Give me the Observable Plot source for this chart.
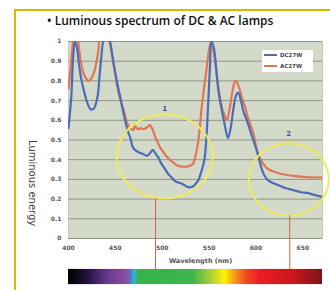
<!DOCTYPE html>
<html><head><meta charset="utf-8">
<script src="https://cdn.jsdelivr.net/npm/d3@7"></script>
<script src="https://cdn.jsdelivr.net/npm/@observablehq/plot@0.6"></script>
<style>
body{margin:0;background:#fff;width:330px;height:290px;overflow:hidden;position:relative;font-family:"DejaVu Sans",sans-serif;}
#frame{position:absolute;left:14px;top:9px;width:330px;height:300px;border-left:2px solid #d8bc00;border-top:2px solid #d8bc00;}
#title{position:absolute;left:47px;top:12px;font:600 12px "Open Sans",sans-serif;color:#111;white-space:nowrap;}
#chart{position:absolute;left:0;top:30px;}
#legend{position:absolute;left:262px;top:50px;width:51px;height:22px;background:#fff;font:bold 5.5px "DejaVu Sans",sans-serif;color:#444;}
#legend .row{position:absolute;left:2px;height:8px;display:flex;align-items:center;white-space:nowrap;}
#legend .sw{display:inline-block;width:13px;height:2px;margin-right:3px;}
</style></head><body>
<div id="frame"></div>
<div id="title"></div>
<div id="chart"></div>
<div id="legend"></div>
<script>
// ---- data ----
const seriesNames = ["DC27W", "AC27W"];
const seriesColors = ["#4c6cb8", "#e27552"];
const dcWavelength = [400,403,405,407,409,411,414,417,420,424,427,431,433,435,437,440,444,448,452,456,459,463,466,469,474,479,484,488,490,493,496,499,502,506,510,514,520,524,528,533,536,539,541,543,545,547,549,551,552.5,555,557,560,564,567,570,573,576,579,581,584,587,591,595,600,603,606,609,613,619,624,632,640,648,656,663,671];
const dcValue = [0.56,0.72,0.92,1.0,0.97,0.89,0.80,0.74,0.69,0.655,0.66,0.72,0.82,0.92,1.0,1.03,1.0,0.89,0.79,0.70,0.63,0.55,0.51,0.46,0.44,0.43,0.42,0.44,0.45,0.43,0.41,0.38,0.36,0.33,0.31,0.29,0.28,0.27,0.26,0.265,0.28,0.30,0.33,0.36,0.40,0.50,0.68,0.88,1.0,0.97,0.89,0.75,0.64,0.57,0.51,0.56,0.66,0.73,0.74,0.70,0.64,0.59,0.53,0.46,0.41,0.355,0.32,0.295,0.28,0.27,0.255,0.245,0.235,0.23,0.22,0.21];
const acWavelength = [400,402,404,406,409,411,413,416,419,421,424,427,430,432,434,443,445,448,452,456,459,461,463,466,469,471,474,477,480,484,487,490,493,496,498,501,504,508,512,516,521,526,530,533,536,538,540,542,544,547,550,552,554,557,560,564,567,569,572,575,578,580,583,586,589,591,594,598,600,603,607,611,616,622,630,640,650,660,671];
const acValue = [0.76,0.85,0.96,1.02,1.02,0.97,0.90,0.84,0.81,0.80,0.81,0.84,0.90,0.96,1.02,1.02,0.97,0.89,0.77,0.69,0.65,0.61,0.58,0.56,0.55,0.57,0.555,0.56,0.555,0.565,0.575,0.55,0.51,0.48,0.46,0.44,0.42,0.40,0.385,0.37,0.365,0.365,0.37,0.38,0.43,0.48,0.56,0.66,0.74,0.85,0.96,1.0,0.97,0.88,0.76,0.66,0.62,0.60,0.66,0.75,0.80,0.79,0.75,0.70,0.66,0.62,0.58,0.52,0.47,0.42,0.385,0.36,0.345,0.335,0.325,0.318,0.313,0.31,0.31];
const xTicks = [400,450,500,550,600,650];
const yTicks = [0,0.1,0.2,0.3,0.4,0.5,0.6,0.7,0.8,0.9,1];
const yLabel = "Luminous energy";
const xLabel = "Wavelength (nm)";
const titleText = "• Luminous spectrum of DC & AC lamps";
// annotations (data units): label, centre wavelength, centre value, radii, pointer wavelength
const zoneLabels = ["1", "2"];
const zoneCentreX = [502.6, 635];
const zoneCentreY = [0.416, 0.30];
const zoneRadiusX = [51.3, 42.7];
const zoneRadiusY = [0.213, 0.183];
const zoneLabelY = [0.66, 0.533];
const pointerX = [492.9, 636.1];
const pointerTop = [0.203, 0.117];
const barBottomValue = -0.157; // top of spectrum bar below the axis
const barLowValue = -0.234;
const spectrumStops = [[0,"#000000"],[0.07,"#1c1035"],[0.16,"#6a3c92"],[0.227,"#8e4ba0"],[0.247,"#4f7cc8"],[0.26,"#2fb4e6"],[0.275,"#35b34a"],[0.49,"#3db54a"],[0.53,"#7dc242"],[0.58,"#c8d92e"],[0.617,"#fff200"],[0.65,"#f7a21b"],[0.70,"#ef4a23"],[0.756,"#ed1c24"],[0.888,"#c9161f"],[1,"#7b1416"]];

const dc = dcWavelength.map((w,i)=>({w, v: dcValue[i], s: seriesNames[0]}));
const ac = acWavelength.map((w,i)=>({w, v: acValue[i], s: seriesNames[1]}));
const ellipses = zoneLabels.flatMap((z,i)=>d3.range(0,361,6).map(a=>({z, w: zoneCentreX[i]+zoneRadiusX[i]*Math.cos(a*Math.PI/180), v: zoneCentreY[i]+zoneRadiusY[i]*Math.sin(a*Math.PI/180)})));
const zones = zoneLabels.map((z,i)=>({z, w: zoneCentreX[i], ly: zoneLabelY[i], px: pointerX[i], pt: pointerTop[i]}));

document.getElementById("title").textContent = titleText;

const chart = Plot.plot({
  width: 330, height: 260,
  marginLeft: 68, marginRight: 8, marginTop: 11, marginBottom: 52,
  style: {background: "transparent", fontFamily: "DejaVu Sans, sans-serif", overflow: "visible"},
  x: {domain: [400, 671], label: null},
  y: {domain: [0, 1], label: null},
  marks: [
    Plot.frame({fill: "#d4dac9", stroke: "#c4c9ba"}),
    Plot.gridY(yTicks, {stroke: "#8f9488", strokeOpacity: 1, strokeWidth: 1}),
    Plot.line(ac, {x: "w", y: "v", stroke: seriesColors[1], strokeWidth: 2.2, curve: "catmull-rom", clip: true}),
    Plot.line(dc, {x: "w", y: "v", stroke: seriesColors[0], strokeWidth: 2.2, curve: "catmull-rom", clip: true}),
    Plot.line(ellipses, {x: "w", y: "v", z: "z", stroke: "#eeea5c", strokeWidth: 2, curve: "linear"}),
    Plot.ruleX(zones, {x: "px", y1: "pt", y2: barBottomValue, stroke: "#d9603f", strokeWidth: 1}),
    Plot.text(zones, {x: "w", y: "ly", text: "z", fill: "#3a5a9a", fontSize: 7, fontWeight: "bold"}),
    Plot.rect([0], {x1: 400, x2: 671, y1: barBottomValue, y2: barLowValue, fill: "url(#spectrum)"}),
    Plot.axisX(xTicks, {tickSize: 0, tickPadding: 7, fontSize: 6, fontWeight: "bold", fill: "#555", tickFormat: d => String(d), label: null}),
    Plot.axisY(yTicks, {tickSize: 0, tickPadding: 7, fontSize: 6, fontWeight: "bold", fill: "#555", tickFormat: d => String(+d.toFixed(1)), label: null}),
    Plot.text([xLabel], {frameAnchor: "bottom", dx: 5, dy: 24, fontSize: 6.5, fontWeight: "bold", fill: "#555"}),
    Plot.text([yLabel], {frameAnchor: "left", dx: -36, rotate: 90, fontSize: 10, fill: "#444"})
  ]
});
const defs = d3.select(chart).insert("defs", ":first-child");
const grad = defs.append("linearGradient").attr("id", "spectrum").attr("x1", "0").attr("x2", "1").attr("y1", "0").attr("y2", "0");
spectrumStops.forEach(([o,c]) => grad.append("stop").attr("offset", o).attr("stop-color", c));
document.getElementById("chart").appendChild(chart);

const legend = document.getElementById("legend");
seriesNames.forEach((n,i) => {
  const row = document.createElement("div");
  row.className = "row";
  row.style.top = (1 + i*11) + "px";
  row.innerHTML = `<span class="sw" style="background:${seriesColors[i]}"></span><span>${n}</span>`;
  legend.appendChild(row);
});
</script>
</body></html>
